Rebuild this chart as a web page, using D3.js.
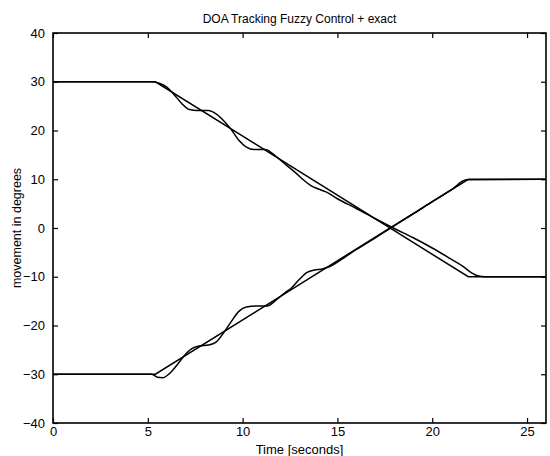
<!DOCTYPE html>
<html>
<head>
<meta charset="utf-8">
<script src="https://cdn.jsdelivr.net/npm/d3@7"></script>
<style>
  body { margin: 0; background: #fff; }
  text { font-family: "Liberation Sans", Arial, sans-serif; fill: #000; }
</style>
</head>
<body>
<div id="chart"></div>
<script>
// exact reference trajectories (time in s, angle in degrees)
var exactTime = [0, 5.4, 21.9, 26];
var exactDown = [30, 30, -10, -10];
var exactUp = [-30, -30, 10, 10];

// fuzzy controller responses
var fuzzyDownTime = [0, 5.2, 5.6, 6.0, 6.4, 6.8, 7.2, 7.6, 8.2, 8.6, 9.0, 9.4, 9.8, 10.2, 10.6, 11.2, 11.6, 12.0, 12.4, 12.8, 13.2, 13.6, 14.0, 14.4, 15.0, 16.0, 17.0, 18.0, 19.0, 20.0, 21.0, 21.6, 22.0, 22.4, 22.8, 26];
var fuzzyDown = [30, 30, 29.7, 28.9, 27.3, 25.5, 24.3, 24.1, 24.1, 23.4, 22.0, 20.2, 18.0, 16.6, 16.1, 16.1, 15.2, 13.9, 12.6, 11.3, 9.9, 8.7, 8.0, 7.4, 6.0, 4.0, 1.9, -0.1, -2.0, -4.1, -6.4, -7.8, -9.0, -9.8, -10, -10];

var fuzzyUpTime = [0, 5.2, 5.5, 5.8, 6.1, 6.5, 6.9, 7.3, 7.7, 8.2, 8.6, 9.0, 9.4, 9.8, 10.2, 10.8, 11.3, 11.7, 12.2, 12.6, 13.0, 13.4, 13.8, 14.2, 14.6, 15.0, 16.0, 17.0, 17.8, 19.0, 20.0, 21.0, 21.8, 26];
var fuzzyUp = [-30, -30, -30.6, -30.7, -30.0, -28.3, -26.3, -24.8, -24.2, -24.0, -23.4, -21.5, -19.2, -17.1, -16.2, -16.0, -16.0, -15.0, -13.4, -12.2, -10.5, -9.1, -8.6, -8.4, -7.9, -7.0, -4.4, -2.0, 0, 2.9, 5.4, 7.8, 9.9, 10];

var xTicks = [0, 5, 10, 15, 20, 25];
var yTicks = [-40, -30, -20, -10, 0, 10, 20, 30, 40];

var width = 550, height = 456;
var margin = {left: 53, right: 4, top: 33, bottom: 33};

var svg = d3.select("#chart").append("svg")
    .attr("width", width)
    .attr("height", height);

var x = d3.scaleLinear().domain([0, 26]).range([margin.left, width - margin.right]);
var y = d3.scaleLinear().domain([-40, 40]).range([height - margin.bottom, margin.top]);

function pts(ts, vs) { return ts.map(function(t, i) { return [t, vs[i]]; }); }

var line = d3.line()
    .x(function(d) { return x(d[0]); })
    .y(function(d) { return y(d[1]); });
var smooth = d3.line()
    .curve(d3.curveMonotoneX)
    .x(function(d) { return x(d[0]); })
    .y(function(d) { return y(d[1]); });

// axes - matlab style, ticks inward on every side
var tickLen = 5;
svg.append("g")
    .attr("transform", "translate(0," + y(-40) + ")")
    .call(d3.axisBottom(x).tickValues(xTicks).tickSizeInner(-tickLen).tickSizeOuter(0).tickPadding(4))
    .call(function(g) { g.select(".domain").remove(); });
svg.append("g")
    .attr("transform", "translate(0," + y(40) + ")")
    .call(d3.axisTop(x).tickValues(xTicks).tickSizeInner(-tickLen).tickSizeOuter(0).tickFormat(""))
    .call(function(g) { g.select(".domain").remove(); });
svg.append("g")
    .attr("transform", "translate(" + x(0) + ",0)")
    .call(d3.axisLeft(y).tickValues(yTicks).tickSizeInner(-tickLen).tickSizeOuter(0).tickPadding(8)
      .tickFormat(function(d) { return d < 0 ? "\u2212" + Math.abs(d) : d; }))
    .call(function(g) { g.select(".domain").remove(); });
svg.append("g")
    .attr("transform", "translate(" + x(26) + ",0)")
    .call(d3.axisRight(y).tickValues(yTicks).tickSizeInner(-tickLen).tickSizeOuter(0).tickFormat(""))
    .call(function(g) { g.select(".domain").remove(); });

svg.selectAll(".tick line").attr("stroke", "#000").attr("stroke-width", 1.2);
svg.selectAll(".tick text").style("font-size", "13px")
    .style("font-family", "'Liberation Sans', Arial, sans-serif");

svg.append("rect")
    .attr("x", x(0)).attr("y", y(40))
    .attr("width", x(26) - x(0)).attr("height", y(-40) - y(40))
    .attr("fill", "none").attr("stroke", "#000").attr("stroke-width", 1.6);

// curves
var series = [
  {d: pts(exactTime, exactDown), gen: line},
  {d: pts(exactTime, exactUp), gen: line},
  {d: pts(fuzzyDownTime, fuzzyDown), gen: smooth},
  {d: pts(fuzzyUpTime, fuzzyUp), gen: smooth}
];
svg.selectAll(".curve")
  .data(series)
  .enter()
  .append("path")
    .attr("class", "curve")
    .attr("d", function(s) { return s.gen(s.d); })
    .attr("fill", "none")
    .attr("stroke", "#000")
    .attr("stroke-width", 1.5);

// labels
svg.append("text")
    .attr("x", (x(0) + x(26)) / 2).attr("y", 23)
    .attr("text-anchor", "middle")
    .style("font-size", "12px")
    .text("DOA Tracking Fuzzy Control + exact");
svg.append("text")
    .attr("x", (x(0) + x(26)) / 2).attr("y", 454)
    .attr("text-anchor", "middle")
    .style("font-size", "13px")
    .text("Time [seconds]");
svg.append("text")
    .attr("transform", "translate(21," + y(0) + ") rotate(-90)")
    .attr("text-anchor", "middle")
    .style("font-size", "12.5px")
    .text("movement in degrees");
</script>
</body>
</html>
